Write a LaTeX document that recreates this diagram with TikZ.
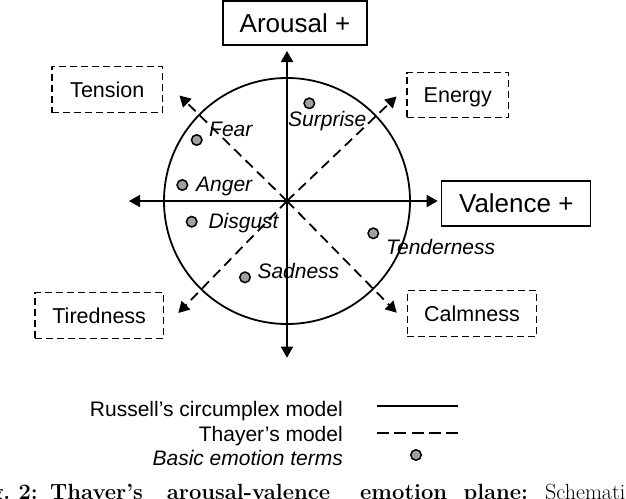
\documentclass[tikz,border=0pt]{standalone}
\usepackage{fontspec}
\newfontfamily\arial{Liberation Sans}
\usetikzlibrary{arrows.meta}
\definecolor{dotgray}{RGB}{160,160,160}
\begin{document}
\begin{tikzpicture}[x=1pt,y=-1pt,
  axis/.style={line width=1.8pt,-{Triangle[length=11pt,width=12pt]}},
  thayer/.style={line width=1.8pt,dash pattern=on 10pt off 6pt,-{Triangle[length=11pt,width=12pt]}},
  mainbox/.style={draw,line width=1.2pt,inner sep=0pt,font=\arial\fontsize{26}{30}\selectfont,text height=18.6pt,text depth=0pt},
  moodbox/.style={draw,line width=1.2pt,dash pattern=on 7pt off 4pt,inner sep=0pt,font=\arial\fontsize{21.5}{25}\selectfont,text height=15.4pt,text depth=0pt},
  emo/.style={anchor=base west,inner sep=0pt,font=\arial\itshape\fontsize{21}{25}\selectfont},
  emodot/.style={circle,draw,fill=dotgray,line width=1.5pt,minimum size=10.5pt,inner sep=0pt},
  leg/.style={anchor=base east,inner sep=0pt,font=\arial\fontsize{21}{25}\selectfont},
  captext/.style={anchor=base west,inner sep=0pt,font=\fontsize{22}{26}\selectfont}
]
\useasboundingbox (0,0) rectangle (626,498);
\clip (0,0) rectangle (626,498);

% coordinates
\coordinate (O) at (287,201);
\coordinate (up) at (287,51);
\coordinate (dn) at (287,357.7);
\coordinate (lt) at (129,201);
\coordinate (rt) at (437.7,201);
\coordinate (tne) at (396.5,96.5);
\coordinate (tnw) at (179.5,95.5);
\coordinate (tsw) at (178.3,313);
\coordinate (tse) at (396.7,312.7);

% boxes
\node[mainbox,minimum width=144pt,minimum height=44pt] (aro) at (295,23) {Arousal +};
\node[mainbox,minimum width=149pt,minimum height=45pt] (val) at (516.3,203.5) {Valence +};
\node[moodbox,minimum width=110.7pt,minimum height=46pt] (ten) at (107.3,89.7) {Tension};
\node[moodbox,minimum width=101.7pt,minimum height=45pt] (ene) at (457.8,95.2) {Energy};
\node[moodbox,minimum width=128.3pt,minimum height=46pt] (tir) at (99.2,315.7) {Tiredness};
\node[moodbox,minimum width=129.4pt,minimum height=46pt] (cal) at (472,313.7) {Calmness};

% circle
\draw[line width=1.8pt] (O) circle[radius=123];

% axes
\draw[axis] (O) -- (up);
\draw[axis] (O) -- (dn);
\draw[axis] (O) -- (lt);
\draw[axis] (O) -- (rt);

% Thayer diagonals
\draw[thayer] (O) -- (tne);
\draw[thayer] (O) -- (tnw);
\draw[thayer] (O) -- (tsw);
\draw[thayer] (O) -- (tse);

% emotions
\node[emodot] (dsur) at (309.3,103.3) {};
\node[emo] (lsur) at (288,126) {Surprise};
\node[emodot] (dfea) at (196.7,140) {};
\node[emo] (lfea) at (209,136.7) {Fear};
\node[emodot] (dang) at (182.3,185) {};
\node[emo] (lang) at (196,191.7) {Anger};
\node[emodot] (ddis) at (191.7,221.7) {};
\node[emo] (ldis) at (208.3,228.3) {Disgust};
\node[emodot] (dsad) at (245,277.3) {};
\node[emo] (lsad) at (257.3,278.3) {Sadness};
\node[emodot] (dten) at (373.3,233.3) {};
\node[emo] (lten) at (386,254) {Tenderness};

% legend
\node[leg] (l1) at (343,416) {Russell’s circumplex model};
\node[leg] (l2) at (343,441.7) {Thayer’s model};
\node[leg,font=\arial\itshape\fontsize{21}{25}\selectfont] (l3) at (343,465) {Basic emotion terms};
\coordinate (s1) at (376.7,406);
\coordinate (s2) at (458.3,406);
\coordinate (d1) at (376.7,432.7);
\coordinate (d2) at (458.3,432.7);
\draw[line width=1.6pt] (s1) -- (s2);
\draw[line width=1.6pt,dash pattern=on 12pt off 5.4pt] (d1) -- (d2);
\node[emodot] (ldot) at (416,455) {};

% caption (cut off)
\node[captext,anchor=base east] (c0) at (38,499.5) {\bfseries Fig.~2:};
\node[captext] (c1) at (50,499.5) {\bfseries Thayer’s};
\node[captext] (c2) at (166.7,499.5) {\bfseries arousal-valence};
\node[captext] (c3) at (360,499.5) {\bfseries emotion};
\node[captext] (c4) at (463.3,499.5) {\bfseries plane:};
\node[captext] (c5) at (545,499.5) {Schematic};
\end{tikzpicture}
\end{document}
